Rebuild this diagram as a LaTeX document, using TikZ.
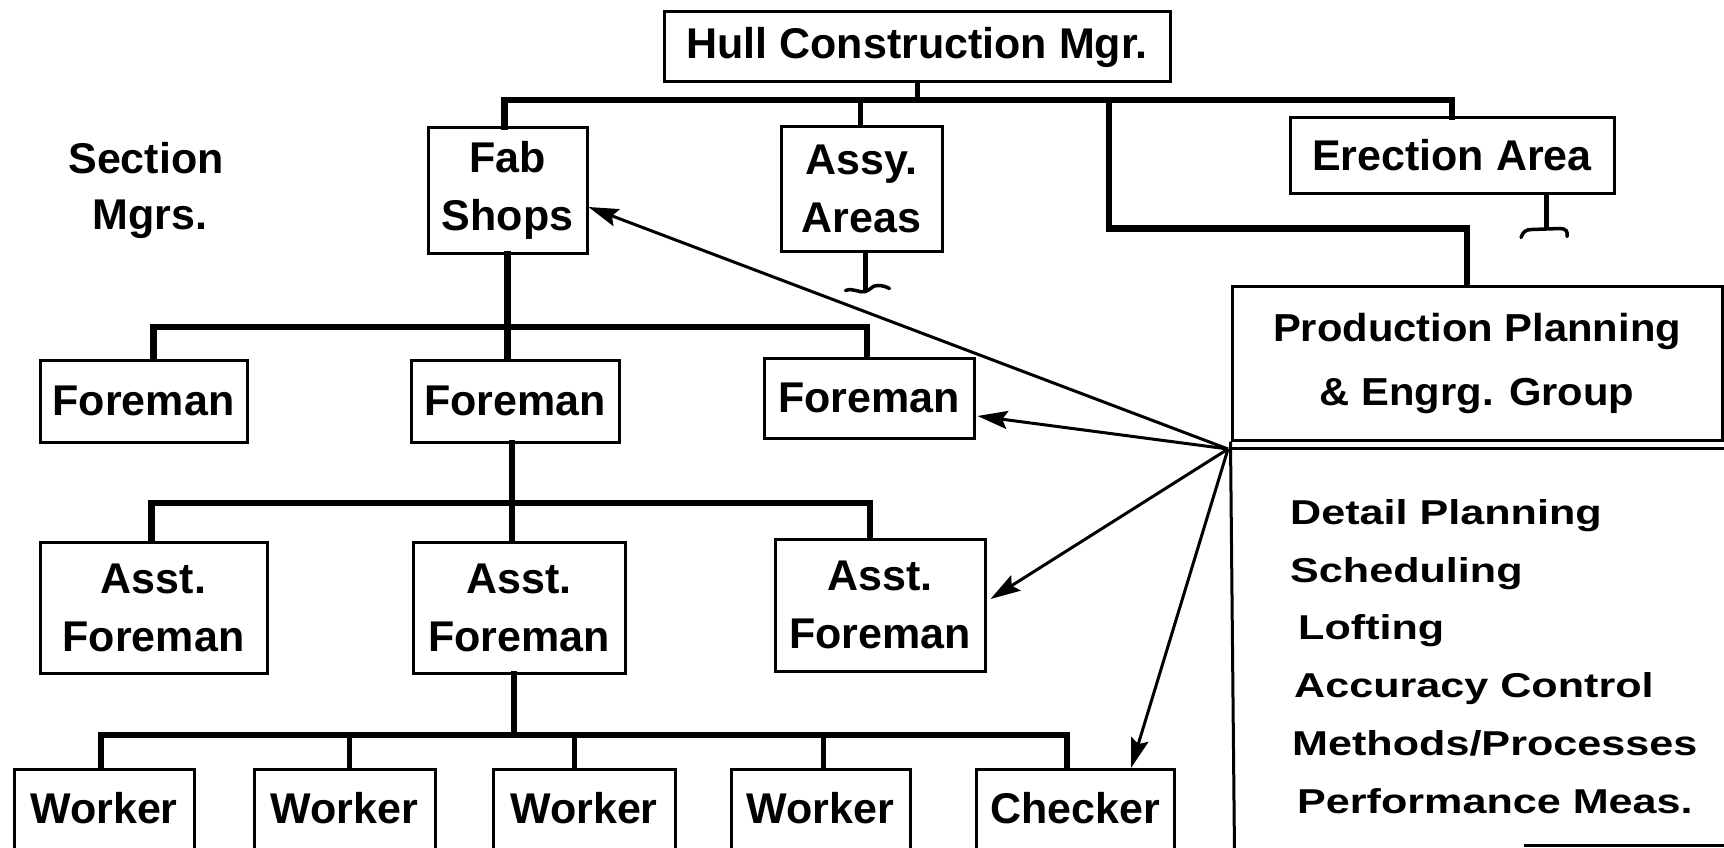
\documentclass[tikz,border=0pt]{standalone}
\usepackage{fontspec}
\setmainfont{Liberation Sans}
\newfontfamily\ppheadfont[FakeStretch=1.07]{Liberation Sans}
\newfontfamily\pplistfont[FakeStretch=1.25]{Liberation Sans}
\usetikzlibrary{arrows.meta,calc}
\begin{document}
\begin{tikzpicture}[x=1pt,y=-1pt,
  box/.style={draw, line width=3pt, inner sep=0pt, align=center,
    font=\fontsize{43}{58}\selectfont\bfseries},
  plain/.style={inner sep=0pt, align=center, font=\fontsize{43}{56}\selectfont\bfseries},
  link/.style={line width=6.5pt, line join=miter, line cap=rect},
  stub/.style={line width=5pt},
  foot/.style={line width=3.5pt, line cap=round},
  rim/.style={line width=3pt},
  ptr/.style={line width=3pt, -{Stealth[length=30pt,width=18pt,inset=5pt]}}]
\clip (0,0) rectangle (1724,848);
\fill[white] (0,0) rectangle (1724,848);

% nodes
\node[box, minimum width=506pt, minimum height=70pt] (hull) at (917,47) {Hull Construction Mgr.};
\node[plain] (sec) at (146,190) {Section\\\hspace*{8pt}Mgrs.};
\node[box, minimum width=159pt, minimum height=125pt] (fab) at (507.5,190.5) {Fab\\Shops};
\node[box, minimum width=161pt, minimum height=124pt] (assy) at (861.5,189) {Assy.\\Areas};
\node[box, minimum width=324pt, minimum height=75pt] (erect) at (1452,155.5) {Erection Area};
\node[draw, line width=3pt, inner sep=0pt, align=center, minimum width=490pt, minimum height=154pt,
  font=\fontsize{39}{66}\selectfont\bfseries\ppheadfont] (pp) at (1477,363)
  {Production Planning\\[-2pt]\& Engrg. Group};
\node[inner sep=0pt, align=left, anchor=north west, font=\fontsize{34.5}{57.8}\selectfont\bfseries\pplistfont]
  (pplist) at (1290,499)
  {Detail Planning\\
   Scheduling\\
   \hspace*{8pt}Lofting\\
   \hspace*{4pt}Accuracy Control\\
   \hspace*{2pt}Methods/Processes\\
   \hspace*{7pt}Performance Meas.};

\node[box, minimum width=207pt, minimum height=82pt] (f1) at (143.5,401) {Foreman};
\node[box, minimum width=208pt, minimum height=82pt] (f2) at (515,401) {Foreman};
\node[box, minimum width=210pt, minimum height=80pt] (f3) at (869,398) {Foreman};

\node[box, minimum width=227pt, minimum height=131pt] (a1) at (153.5,607.5) {Asst.\\Foreman};
\node[box, minimum width=212pt, minimum height=131pt] (a2) at (519,607.5) {Asst.\\Foreman};
\node[box, minimum width=210pt, minimum height=132pt] (a3) at (880,605) {Asst.\\Foreman};

\node[box, anchor=north, minimum width=180pt, minimum height=84pt] (w1) at (104,768) {\raisebox{7pt}{Worker}};
\node[box, anchor=north, minimum width=181pt, minimum height=84pt] (w2) at (344.5,768) {\raisebox{7pt}{Worker}};
\node[box, anchor=north, minimum width=182pt, minimum height=84pt] (w3) at (584,768) {\raisebox{7pt}{Worker}};
\node[box, anchor=north, minimum width=179pt, minimum height=84pt] (w4) at (820.5,768) {\raisebox{7pt}{Worker}};
\node[box, anchor=north, minimum width=198pt, minimum height=84pt] (chk) at (1075,768) {\raisebox{7pt}{Checker}};

% bus levels
\coordinate (topbus) at (0,100);
\coordinate (fbus) at (0,327);
\coordinate (abus) at (0,503);
\coordinate (wbus) at (0,735);
\coordinate (ppjoin) at (1109,100);
\coordinate (src) at (1228,449);

% top level
\draw[stub] (hull.south) -- (hull.south |- topbus);
\draw[link] ($(fab.north)+(-3,0)$) -- ($(fab.north |- topbus)+(-3,0)$) -- (erect.north |- topbus) -- (erect.north);
\draw[stub] ($(assy.north)+(-1.5,0)$) -- ($(assy.north |- topbus)+(-1.5,0)$);
\draw[link] (ppjoin) |- ($(pp.north)+(-10,-56)$) -- ($(pp.north)+(-10,0)$);

% stubs with feet
\draw[stub] ($(assy.south)+(4,0)$) -- ++(0,38) coordinate (assyfoot);
\draw[foot] ($(assyfoot)+(-20,0)$) .. controls +(8,-3) and +(-6,2) .. ($(assyfoot)+(0,1)$)
  .. controls +(6,-2) and +(-6,0) .. ($(assyfoot)+(12,-5)$)
  .. controls +(5,0) and +(-4,-2) .. ($(assyfoot)+(24,-2)$);
\draw[stub] ($(erect.south)+(94,0)$) -- ++(0,34) coordinate (erfoot);
\draw[foot] ($(erfoot)+(-25,9)$) .. controls +(2,-6) and +(-6,0) .. ($(erfoot)+(-14,1)$)
  -- ($(erfoot)+(14,0)$) .. controls +(6,0) and +(1,-5) .. ($(erfoot)+(21,8)$);

% foreman level
\draw[link] (fab.south) -- (fab.south |- f2.north);
\draw[link] ($(f1.north)+(10,0)$) -- ($(f1.north |- fbus)+(10,0)$) -- ($(f3.north |- fbus)+(-2,0)$) -- ($(f3.north)+(-2,0)$);

% assistant level
\draw[link] ($(f2.south)+(-3,0)$) -- ($(f2.south |- a2.north)+(-3,0)$);
\draw[link] ($(a1.north)+(-2,0)$) -- ($(a1.north |- abus)+(-2,0)$) -- ($(a3.north |- abus)+(-10,0)$) -- ($(a3.north)+(-10,0)$);

% worker level
\draw[link] ($(a2.south)+(-5,0)$) -- ($(a2.south |- wbus)+(-5,0)$);
\draw[link] ($(w1.north)+(-3,0)$) -- ($(w1.north |- wbus)+(-3,0)$) -- ($(chk.north |- wbus)+(-8,0)$) -- ($(chk.north)+(-8,0)$);
\draw[stub] ($(w2.north)+(5,0)$) -- ($(w2.north |- wbus)+(5,0)$);
\draw[stub] ($(w3.north)+(-10,0)$) -- ($(w3.north |- wbus)+(-10,0)$);
\draw[stub] ($(w4.north)+(3,0)$) -- ($(w4.north |- wbus)+(3,0)$);

% planning group box lower part
\draw[rim] ($(pp.south west)+(0,7)$) -- ($(pp.south east)+(4,7)$);
\draw[rim] (pp.south west) -- ++(4,412);
\draw[rim] (1524,845) -- (1730,845);

% arrows
\draw[ptr] (src) -- ($(fab.east)+(0,16.5)$);
\draw[ptr] (src) -- ($(f3.east)+(2,18)$);
\draw[ptr] (src) -- ($(a3.east)+(4,-6)$);
\draw[ptr] (src) -- ($(chk.north)+(56,0)$);
\end{tikzpicture}
\end{document}
